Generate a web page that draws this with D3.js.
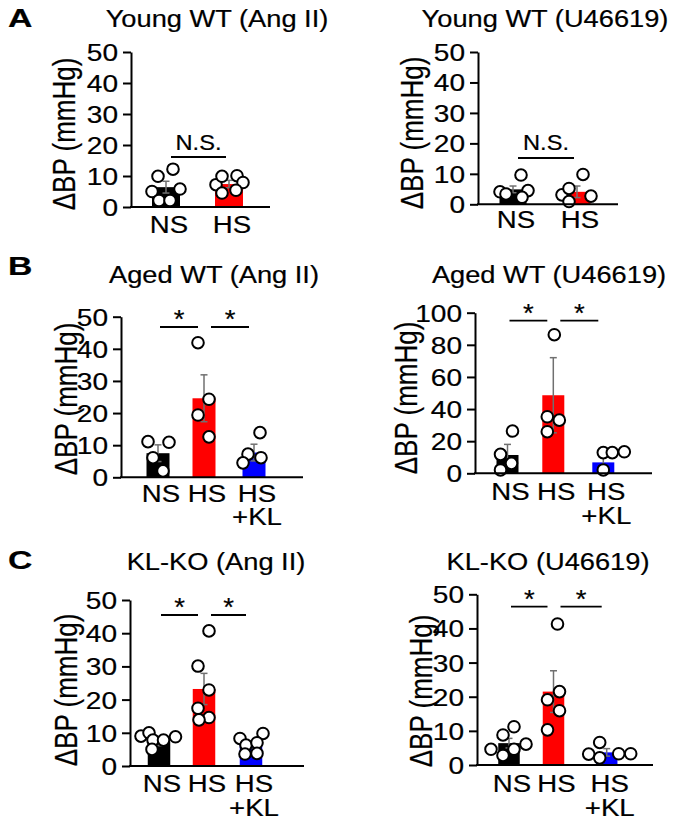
<!DOCTYPE html>
<html><head><meta charset="utf-8">
<script src="https://cdn.jsdelivr.net/npm/d3@7"></script>
<style>
body{margin:0;background:#fff}
svg{display:block}
text{font-family:"Liberation Sans",Arial,Helvetica,sans-serif;fill:#000;stroke:#000;stroke-width:0.2px}
</style>
</head><body>
<svg id="chart" width="681" height="828"></svg>
<script>
// ================= DATA =================
const groups2 = ["NS", "HS"];
const groups3 = ["NS", "HS", "HS+KL"];
const groupLabels = { "NS": ["NS"], "HS": ["HS"], "HS+KL": ["HS", "+KL"] };
const yTicks50 = [0, 10, 20, 30, 40, 50];
const yTicks100 = [0, 20, 40, 60, 80, 100];
const yLabel = "ΔBP (mmHg)";
const sigNS = [[0, 1, "N.S."]];
const sigStars = [[0, 1, "*"], [1, 2, "*"]];

// A – Young WT (Ang II)
const youngAngMean = [6.4, 7.4];
const youngAngSem = [1.9, 1.2];
const youngAngPtsNS = [9.9, 12.2, 5.0, 5.8, 2.1, 2.1];
const youngAngPtsHS = [7.2, 9.9, 10.1, 7.9, 4.5, 5.4];

// A – Young WT (U46619)
const youngUMean = [4.9, 4.1];
const youngUSem = [1.1, 1.9];
const youngUPtsNS = [4.1, 3.4, 9.6, 4.5, 2.3];
const youngUPtsHS = [3.1, 5.2, 9.8, 2.7, 0.9];

// B – Aged WT (Ang II)
const agedAngMean = [7.5, 24.6, 7.7];
const agedAngSem = [2.6, 7.3, 2.6];
const agedAngPtsNS = [11.1, 10.9, 6.1, 2.0];
const agedAngPtsHS = [41.9, 24.3, 19.4, 12.6];
const agedAngPtsKL = [13.9, 7.2, 6.1, 4.5];

// B – Aged WT (U46619)
const agedUMean = [11.4, 48.6, 6.8];
const agedUSem = [6.6, 23.4, 3.5];
const agedUPtsNS = [26.3, 11.8, 6.2, 2.1];
const agedUPtsHS = [86.3, 35.2, 33.1, 25.9];
const agedUPtsKL = [12.9, 12.9, 13.4, 2.1];

// C – KL-KO (Ang II)
const koAngMean = [7.3, 23.2, 6.3];
const koAngSem = [1.2, 4.7, 1.0];
const koAngPtsNS = [9.0, 10.0, 7.8, 7.8, 8.8, 5.0];
const koAngPtsHS = [40.7, 30.1, 22.9, 17.4, 14.6, 13.9];
const koAngPtsKL = [8.3, 9.8, 6.3, 7.0, 3.6, 3.8];

// C – KL-KO (U46619)
const koUMean = [6.4, 21.5, 3.7];
const koUSem = [1.4, 6.1, 1.1];
const koUPtsNS = [4.6, 8.8, 11.2, 4.6, 6.1, 2.8];
const koUPtsHS = [41.3, 21.5, 19.1, 15.9, 10.3];
const koUPtsKL = [3.2, 6.6, 2.1, 3.3, 3.3];

// ================= STYLE / LAYOUT =================
const barColors = ["#000000", "#ff0000", "#0000ff"];
const errColor = "#707070";
const SX = 1.17;         // horizontal text stretch seen in the figure
const FS = 23.5;         // main font size

const panels = [
  { title: "Young WT (Ang II)", groups: groups2, mean: youngAngMean, sem: youngAngSem,
    pts: [youngAngPtsNS, youngAngPtsHS], ymax: 50, ticks: yTicks50, sig: sigNS,
    L: { axisX: 131, y0: 207, yTop: 52, xEnd: 270, centers: [166, 229], barW: 28,
         tx: 217, ty: 27, lx: 75, ly: 134, xlY: 232.5, sigY: 157, sigTextY: 150,
         jit: [[-8, 7, -14, 14, -7, 4], [-13, -7, 8, 14, -7, 7]] } },
  { title: "Young WT (U46619)", groups: groups2, mean: youngUMean, sem: youngUSem,
    pts: [youngUPtsNS, youngUPtsHS], ymax: 50, ticks: yTicks50, sig: sigNS,
    L: { axisX: 478, y0: 204.3, yTop: 52, xEnd: 618, centers: [513, 577], barW: 27,
         tx: 545, ty: 27, lx: 423, ly: 133, xlY: 228.3, sigY: 158, sigTextY: 150,
         jit: [[-13, -7, 8, 15, 9], [-15, -8, 6, 14, -8]] } },
  { title: "Aged WT (Ang II)", groups: groups3, mean: agedAngMean, sem: agedAngSem,
    pts: [agedAngPtsNS, agedAngPtsHS, agedAngPtsKL], ymax: 50, ticks: yTicks50, sig: sigStars,
    L: { axisX: 121, y0: 477.3, yTop: 316.7, xEnd: 303, centers: [158, 204, 254], barW: 23,
         tx: 214, ty: 283, lx: 77, ly: 399, xlY: 501.7, sigY: 327,
         jit: [[-10, 11, -5, 5], [-6, 5, -6, 5], [6, -6, 7, -11]] } },
  { title: "Aged WT (U46619)", groups: groups3, mean: agedUMean, sem: agedUSem,
    pts: [agedUPtsNS, agedUPtsHS, agedUPtsKL], ymax: 100, ticks: yTicks100, sig: sigStars,
    L: { axisX: 475, y0: 473.3, yTop: 312.7, xEnd: 652, centers: [507.5, 553.3, 603.3], barW: 22,
         tx: 549, ty: 283, lx: 417, ly: 398, xlY: 500, sigY: 320.7,
         jit: [[5, -7, 4, -7], [1, -6, 6, -6], [0, 9, 21, 0]] } },
  { title: "KL-KO (Ang II)", groups: groups3, mean: koAngMean, sem: koAngSem,
    pts: [koAngPtsNS, koAngPtsHS, koAngPtsKL], ymax: 50, ticks: yTicks50, sig: sigStars,
    L: { axisX: 130, y0: 766, yTop: 600, xEnd: 304, centers: [159, 204, 251], barW: 22.5,
         tx: 216, ty: 570, lx: 77, ly: 690, xlY: 792.3, sigY: 615,
         jit: [[-18, -10, -6, 4.5, 16.5, -7], [5, -6, 5, -6, 5, -5], [-11, 12, -5, 6, -6, 6]] } },
  { title: "KL-KO (U46619)", groups: groups3, mean: koUMean, sem: koUSem,
    pts: [koUPtsNS, koUPtsHS, koUPtsKL], ymax: 50, ticks: yTicks50, sig: sigStars,
    L: { axisX: 477, y0: 765, yTop: 594.3, xEnd: 653, centers: [509, 553.5, 606.7], barW: 21.5,
         tx: 548, ty: 570, lx: 432, ly: 691, xlY: 792, sigY: 606.7,
         jit: [[-18, -6, 5, 5, 17, -6], [4, 6, -6, 6, -6], [-18, -7, -7, 12, 24]] } }
];

const panelLetters = [["A", 8, 27], ["B", 8, 275], ["C", 8, 569]];

// ================= DRAW =================
const svg = d3.select("#chart");

function sText(g, str, x, y, opts = {}) {
  const t = g.append("text")
    .attr("transform", `translate(${x},${y}) scale(${opts.sx || SX},1)` + (opts.rot ? ` rotate(${opts.rot})` : ""))
    .attr("text-anchor", opts.anchor || "middle")
    .style("font-size", (opts.fs || FS) + "px")
    .text(str);
  if (opts.bold) t.style("font-weight", "bold");
  return t;
}

panelLetters.forEach(([l, x, y]) => sText(svg, l, x, y, { anchor: "start", fs: 26, sx: 1.3, bold: true }));

panels.forEach(p => {
  const L = p.L;
  const g = svg.append("g");
  const y = d3.scaleLinear().domain([0, p.ymax]).range([L.y0, L.yTop]);
  const x = d3.scaleOrdinal().domain(p.groups).range(L.centers);

  // bars
  g.selectAll("rect.bar").data(p.groups).join("rect")
    .attr("class", "bar")
    .attr("x", d => x(d) - L.barW / 2)
    .attr("y", (d, i) => y(p.mean[i]))
    .attr("width", L.barW)
    .attr("height", (d, i) => L.y0 - y(p.mean[i]))
    .attr("fill", (d, i) => barColors[i]);

  // error bars (mean ± SEM)
  const eg = g.append("g").attr("stroke", errColor).attr("stroke-width", 1.5);
  p.groups.forEach((d, i) => {
    const cx = x(d), hi = y(p.mean[i] + p.sem[i]), lo = y(Math.max(0, p.mean[i] - p.sem[i]));
    eg.append("line").attr("x1", cx).attr("x2", cx).attr("y1", hi).attr("y2", lo);
    eg.append("line").attr("x1", cx - 3.5).attr("x2", cx + 3.5).attr("y1", hi).attr("y2", hi);
    eg.append("line").attr("x1", cx - 3.5).attr("x2", cx + 3.5).attr("y1", lo).attr("y2", lo);
  });

  // individual points
  p.groups.forEach((d, i) => {
    g.selectAll(null).data(p.pts[i]).join("circle")
      .attr("cx", (v, k) => x(d) + L.jit[i][k])
      .attr("cy", v => y(v))
      .attr("r", 5.8)
      .attr("fill", "#fff")
      .attr("stroke", "#000")
      .attr("stroke-width", 2);
  });

  // y axis
  const gy = g.append("g").attr("transform", `translate(${L.axisX},0)`)
    .call(d3.axisLeft(y).tickValues(p.ticks).tickSize(8).tickSizeOuter(0).tickPadding(5));
  gy.select(".domain").attr("stroke", "#000").attr("stroke-width", 2);
  gy.selectAll(".tick line").attr("stroke", "#000").attr("stroke-width", 2);
  gy.selectAll(".tick text")
    .attr("x", null).attr("dy", null)
    .attr("transform", `translate(-13,8.5) scale(${SX},1)`)
    .attr("fill", "#000")
    .style("font-size", "24px")
    .style("font-family", '"Liberation Sans",Arial,sans-serif');

  // x baseline
  g.append("line").attr("x1", L.axisX - 1).attr("x2", L.xEnd)
    .attr("y1", L.y0).attr("y2", L.y0).attr("stroke", "#000").attr("stroke-width", 2);

  // x category labels
  p.groups.forEach(d => {
    groupLabels[d].forEach((line, j) => sText(g, line, x(d) + 3, L.xlY + j * 23.5, { sx: 1.15, fs: 24 }));
  });

  // title
  sText(g, p.title, L.tx, L.ty, { sx: 1.16, fs: 23.5 });

  // y label
  sText(g, yLabel, L.lx, L.ly, { fs: 26, sx: 1.18, rot: -90 });

  // significance
  p.sig.forEach(([a, b, lab]) => {
    let x1, x2;
    if (p.groups.length === 2) { x1 = x(p.groups[a]) + 5; x2 = x(p.groups[b]) - 3; }
    else if (a === 0) { x1 = x(p.groups[a]) + 2; x2 = x(p.groups[b]) - 6; }
    else { x1 = x(p.groups[a]) + 7; x2 = x(p.groups[b]) - 5; }
    g.append("line").attr("x1", x1).attr("x2", x2).attr("y1", L.sigY).attr("y2", L.sigY)
      .attr("stroke", "#000").attr("stroke-width", 1.8);
    if (lab === "*") sText(g, lab, (x1 + x2) / 2, L.sigY + 1, { fs: 25, sx: 1.1 });
    else sText(g, lab, (x1 + x2) / 2, L.sigTextY, { fs: 21.5, sx: 1.1 });
  });
});
</script>
</body></html>
